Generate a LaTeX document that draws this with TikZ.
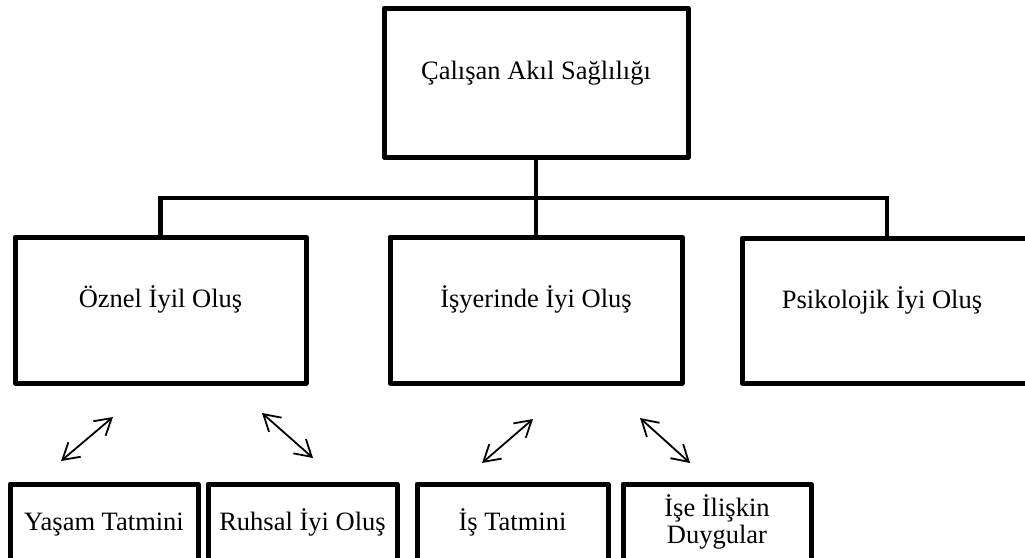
\documentclass[tikz,border=0pt]{standalone}
\usepackage{fontspec}
\setmainfont{Liberation Serif}
\usetikzlibrary{arrows.meta,calc}
\begin{document}
\begin{tikzpicture}[x=1pt,y=-1pt,
  box/.style={draw,line width=5pt,line join=round,inner sep=0pt},
  conn/.style={line width=4.5pt},
  lbl/.style={inner sep=0pt,font=\fontsize{26.5}{26.5}\selectfont,align=center},
  arr/.style={line width=1.8pt,{Straight Barb[length=16pt,width=19pt]}-{Straight Barb[length=16pt,width=19pt]}}]
\path[use as bounding box,clip] (0,0) rectangle (1025,557);
% boxes
\node[box,minimum width=304pt,minimum height=149pt] (b0) at (536,82.5) {};
\node[box,minimum width=291pt,minimum height=146pt] (b1) at (160.5,310) {};
\node[box,minimum width=292pt,minimum height=146pt] (b2) at (536,310) {};
\node[box,minimum width=290pt,minimum height=145pt] (b3) at (887,310.5) {};
\node[box,minimum width=188pt,minimum height=78pt] (b11) at (104,523) {};
\node[box,minimum width=189pt,minimum height=78pt] (b12) at (302.5,523) {};
\node[box,minimum width=191pt,minimum height=78pt] (b21) at (512.5,523) {};
\node[box,minimum width=188pt,minimum height=78pt] (b22) at (717,523) {};
% labels
\node[lbl,anchor=base] (t0) at (536,79) {Çalışan Akıl Sağlılığı};
\node[lbl,anchor=base] (t1) at (160.5,307.5) {Öznel İyil Oluş};
\node[lbl,anchor=base] (t2) at (536,307.5) {İşyerinde İyi Oluş};
\node[lbl,anchor=base] (t3) at (882,308.5) {Psikolojik İyi Oluş};
\node[lbl,anchor=base] (t11) at (104,530) {Yaşam Tatmini};
\node[lbl,anchor=base] (t12) at (302.5,530) {Ruhsal İyi Oluş};
\node[lbl,anchor=base] (t21) at (512.5,530) {İş Tatmini};
\node[lbl,anchor=base] (t22) at (717,543) {İşe İlişkin\\Duygular};
% tree connectors
\coordinate (j) at (536,198);
\draw[conn] (b0.south) -- (b2.north);
\draw[conn] (b1.north) |- (j) -| (b3.north);
% double arrows
\coordinate (a1s) at (61,461);  \coordinate (a1e) at (113,417);
\coordinate (a2s) at (262,413); \coordinate (a2e) at (313,458);
\coordinate (a3s) at (482,463); \coordinate (a3e) at (533,419);
\coordinate (a4s) at (640,418); \coordinate (a4e) at (690,463);
\draw[arr] (a1s) -- (a1e);
\draw[arr] (a2s) -- (a2e);
\draw[arr] (a3s) -- (a3e);
\draw[arr] (a4s) -- (a4e);
\end{tikzpicture}
\end{document}
